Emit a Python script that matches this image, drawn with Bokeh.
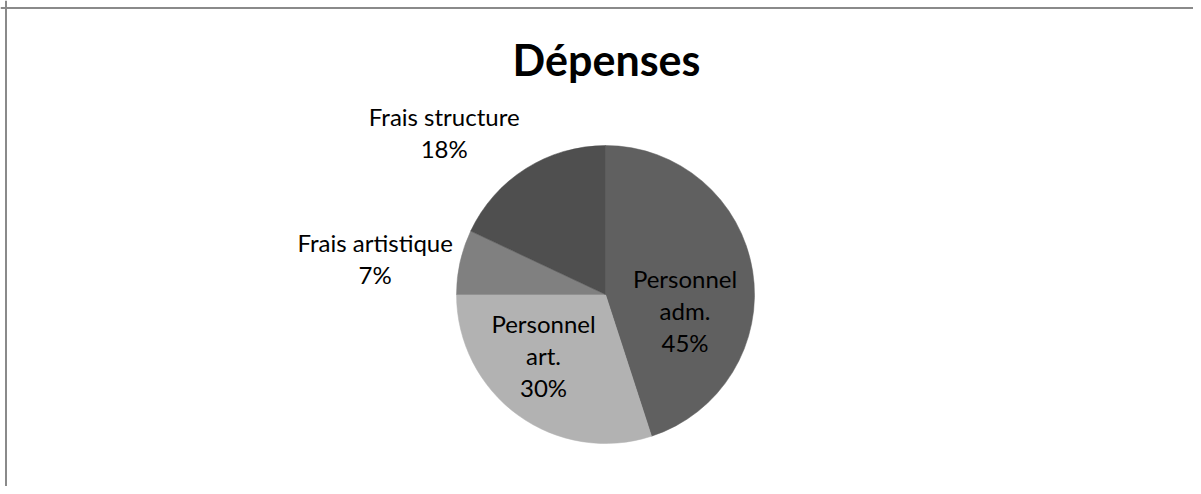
import math
from bokeh.plotting import figure
from bokeh.models import Range1d, Span, ColumnDataSource
from bokeh.core.properties import value
from bokeh.embed import file_html
from bokeh.resources import INLINE

# ---- data ----
categories = ["Personnel adm.", "Personnel art.", "Frais artistique", "Frais structure"]
shares = [45, 30, 7, 18]
label_texts = ["Personnel\nadm.\n45%", "Personnel\nart.\n30%", "Frais artistique\n7%", "Frais structure\n18%"]
colors = ["#606060", "#b2b2b2", "#808080", "#4f4f4f"]
title_text = "Dépenses"

# ---- layout (pixel-like data space) ----
W, H = 1193, 486
cx, cy, R = 605, 192, 149
# label offsets from pie centre (layout)
label_dx = [79.5, -62, -230.3, -161.3]
label_dy = [-16, -61, 36, 162.4]

total = sum(shares)
starts, ends = [], []
a = math.pi / 2
for s in shares:
    starts.append(a)
    a -= 2 * math.pi * s / total
    ends.append(a)

p = figure(width=W, height=H, output_backend="svg", toolbar_location=None,
           x_range=Range1d(0, W), y_range=Range1d(0, H),
           x_axis_location=None, y_axis_location=None, min_border=0)
p.grid.visible = False
p.outline_line_color = None
p.background_fill_color = "white"
p.border_fill_color = "white"

src = ColumnDataSource(dict(start=starts, end=ends, color=colors, cat=categories))
p.wedge(x=cx, y=cy, radius=R, start_angle="start", end_angle="end",
        direction="clock", fill_color="color", line_color="color", line_width=0.5,
        source=src)

lsrc = ColumnDataSource(dict(x=[cx + d for d in label_dx], y=[cy + d for d in label_dy],
                             t=label_texts))
p.text(x="x", y="y", text="t", source=lsrc, text_align="center", text_baseline="middle",
       text_font=value("Lato"), text_font_size="24px", text_color="#000000",
       text_line_height=1.11)

p.text(x=[606], y=[H - 59], text=[title_text], text_align="center", text_baseline="middle",
       text_font=value("Lato"), text_font_size="43px", text_font_style="bold",
       text_color="#000000")

p.add_layout(Span(location=5.5, dimension="height", line_color="#8a8a8a", line_width=2))
p.add_layout(Span(location=H - 7.5, dimension="width", line_color="#8a8a8a", line_width=2))

open("out.html", "w").write(file_html(p, INLINE))
